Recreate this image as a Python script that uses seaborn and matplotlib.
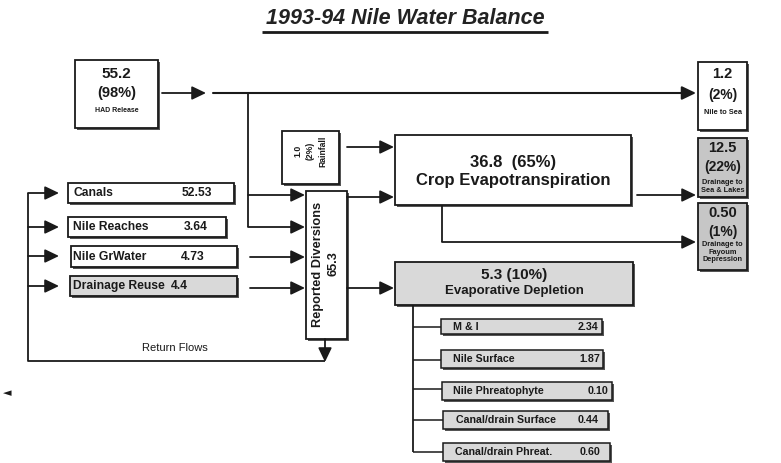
import matplotlib
matplotlib.use("Agg")
import matplotlib.pyplot as plt
import seaborn as sns
from matplotlib.patches import Rectangle, FancyArrowPatch

# ---------------- data ----------------
title = "1993-94 Nile Water Balance"
had_value, had_pct, had_label = "55.2", "(98%)", "HAD Release"
rain_value, rain_pct, rain_label = "1.0", "(2%)", "Rainfall"
crop_value, crop_pct, crop_label = "36.8", "(65%)", "Crop Evapotranspiration"
evap_value, evap_pct, evap_label = "5.3", "(10%)", "Evaporative Depletion"
diversion_label, diversion_value = "Reported Diversions", "65.3"
out_values = ["1.2", "12.5", "0.50"]
out_pcts = ["(2%)", "(22%)", "(1%)"]
out_labels = ["Nile to Sea", "Drainage to\nSea & Lakes", "Drainage to\nFayoum\nDepression"]
left_labels = ["Canals", "Nile Reaches", "Nile GrWater", "Drainage Reuse"]
left_values = ["52.53", "3.64", "4.73", "4.4"]
sub_labels = ["M & I", "Nile Surface", "Nile Phreatophyte", "Canal/drain Surface", "Canal/drain Phreat."]
sub_values = ["2.34", "1.87", "0.10", "0.44", "0.60"]
return_label = "Return Flows"

# ---------------- layout (pixel positions) ----------------
left_boxes = [(68, 183, 234, 203), (68, 217, 226, 237), (71, 246, 237, 267), (70, 276, 237, 296)]
left_fill = ["white", "white", "white", "grey"]
left_val_x = [212, 208, 205, 188]
left_arrow_y = [193, 227, 256, 286]

sub_boxes = [(441, 319, 602, 334), (441, 350, 603, 368), (442, 382, 612, 400),
             (443, 411, 608, 429), (443, 443, 610, 461)]
sub_label_x = [453, 453, 453, 456, 455]
sub_val_x = [598, 600, 608, 599, 600]
sub_line_y = [327, 360, 389, 420, 452]

out_boxes = [(698, 62, 747, 130), (698, 138, 747, 197), (698, 203, 747, 270)]
out_fill = ["white", "dgrey", "dgrey"]
out_val_y = [74, 148, 213]
out_pct_y = [95, 167, 232]
out_lab_y = [113, 186.5, 252]

sns.set_theme(style="white")
plt.rcParams['font.family'] = ['Liberation Sans', 'DejaVu Sans']
W, H = 781, 463
fig = plt.figure(figsize=(W / 100, H / 100), dpi=100)
ax = fig.add_axes([0, 0, 1, 1])
ax.set_xlim(0, W)
ax.set_ylim(H, 0)
ax.set_axis_off()
sns.despine(ax=ax, left=True, bottom=True)

INK = "#1a1a1a"
FILLS = {"white": "white", "grey": "#d9d9d9", "dgrey": "#c6c6c6"}


def box(x0, y0, x1, y1, fc="white", lw=1.3, shadow=True):
    if shadow:
        ax.add_patch(Rectangle((x0 + 1.5, y0 + 1.5), x1 - x0, y1 - y0,
                               fc="#555555", ec="none", zorder=2))
    ax.add_patch(Rectangle((x0, y0), x1 - x0, y1 - y0, fc=FILLS.get(fc, fc), ec=INK,
                           lw=lw, zorder=3))


def arrow(x0, y0, x1, y1, lw=1.3):
    ax.add_patch(FancyArrowPatch((x0, y0), (x1, y1),
                                 arrowstyle="-|>,head_length=0.5,head_width=0.24",
                                 mutation_scale=17, lw=lw, color=INK,
                                 shrinkA=0, shrinkB=0, zorder=4))


def line(xs, ys, lw=1.3):
    ax.plot(xs, ys, color=INK, lw=lw, solid_capstyle="butt", zorder=4)


def txt(x, y, s, size, ha="center", va="center", linespacing=1.0, **kw):
    ax.text(x, y, s, fontsize=size, fontweight="bold", ha=ha, va=va,
            color=INK, zorder=5, linespacing=linespacing, **kw)


# title
ax.text(405, 18, title, fontsize=15.5, fontweight="bold", fontstyle="italic",
        ha="center", va="center", color="#222222")
line([262, 548], [32, 32], lw=2.0)

# HAD release
box(75, 60, 158, 128)
txt(116.5, 74, had_value, 11)
txt(116.5, 93, had_pct, 10.5)
txt(116.5, 111, had_label, 5)
arrow(162, 93, 206, 93)

# main Nile line to sea
arrow(213, 93, 696, 93, lw=1.5)
line([248, 248], [93, 227])
arrow(248, 195, 305, 195)
arrow(248, 227, 305, 227)

# outflow boxes
for (x0, y0, x1, y1), fc, v, p, l, vy, py, ly in zip(out_boxes, out_fill, out_values,
                                                     out_pcts, out_labels, out_val_y,
                                                     out_pct_y, out_lab_y):
    box(x0, y0, x1, y1, fc)
    cx = (x0 + x1) / 2
    txt(cx, vy, v, 10.5)
    txt(cx, py, p, 10)
    txt(cx, ly, l, 5.3, linespacing=1.15)

# rainfall
box(282, 131, 339, 184)
txt(310, 151, rain_value + "\n" + rain_pct + "\n" + rain_label, 6.2,
    rotation=90, linespacing=1.5)
arrow(347, 147, 394, 147)

# crop ET
box(395, 135, 631, 205)
txt(513, 162, crop_value + "  " + crop_pct, 12)
txt(513, 181, crop_label, 12)
arrow(637, 195, 696, 195)
line([442, 442], [205, 242])
arrow(442, 242, 696, 242)

# reported diversions
box(306, 191, 347, 339)
txt(326, 264, diversion_label + "\n" + diversion_value, 9.2, rotation=90,
    linespacing=1.4)
arrow(347, 197, 394, 197)
arrow(347, 288, 394, 288)

# evaporative depletion
box(395, 262, 633, 305, "grey")
txt(514, 275, evap_value + " " + evap_pct, 11)
txt(514, 291, evap_label, 9.5)

# left boxes
for (x0, y0, x1, y1), fc, lab, val, vx in zip(left_boxes, left_fill, left_labels,
                                             left_values, left_val_x):
    box(x0, y0, x1, y1, fc)
    cy = (y0 + y1) / 2
    txt(73, cy, lab, 8.7, ha="left")
    txt(vx, cy, val, 8.7, ha="right")
arrow(250, 257, 305, 257)
arrow(250, 288, 305, 288)

# return flows loop
arrow(325, 339, 325, 362)
line([325, 28, 28], [361, 361, 193])
for y in left_arrow_y:
    arrow(28, y, 59, y)
ax.text(175, 348, return_label, fontsize=8, ha="center", va="center", color=INK)

# sub-components of evaporative depletion
line([413, 413], [305, 452])
for (x0, y0, x1, y1), lab, val, lx, vx, ly in zip(sub_boxes, sub_labels, sub_values,
                                                 sub_label_x, sub_val_x, sub_line_y):
    box(x0, y0, x1, y1, "grey", lw=1.1)
    cy = (y0 + y1) / 2
    line([413, x0], [ly, ly], lw=1.1)
    txt(lx, cy, lab, 7.7, ha="left")
    txt(vx, cy, val, 7.7, ha="right")

ax.text(7, 393, "\u25c4", fontsize=8, ha="center", va="center", color=INK,
        family="DejaVu Sans")

fig.savefig("out.png", dpi=100)
